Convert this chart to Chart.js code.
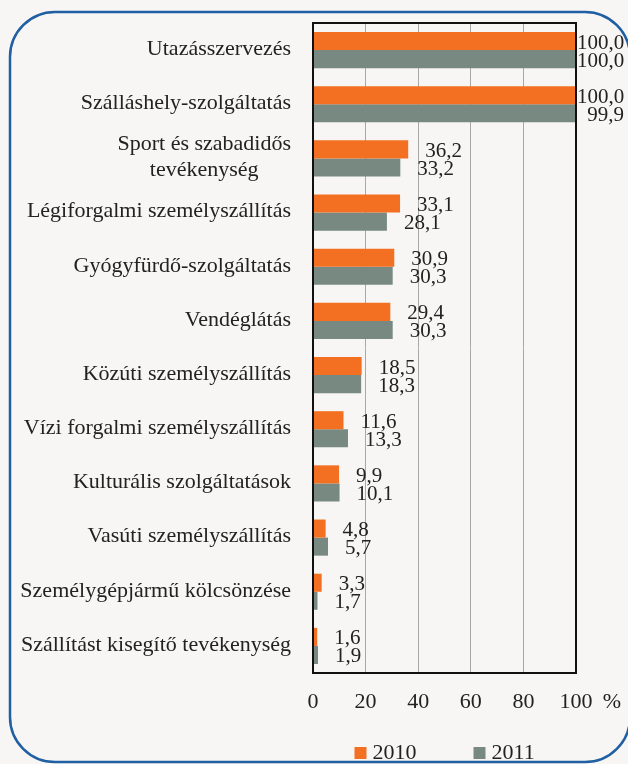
<!DOCTYPE html>
<html>
<head>
<meta charset="utf-8">
<script src="https://cdn.jsdelivr.net/npm/chart.js@4/dist/chart.umd.min.js"></script>
<style>
  html, body { margin: 0; padding: 0; background: #f7f6f4; }
  canvas { display: block; }
</style>
</head>
<body>
<canvas id="c" width="628" height="764"></canvas>
<script>
const categories = [
  'Utazásszervezés',
  'Szálláshely-szolgáltatás',
  ['Sport és szabadidős', 'tevékenység'],
  'Légiforgalmi személyszállítás',
  'Gyógyfürdő-szolgáltatás',
  'Vendéglátás',
  'Közúti személyszállítás',
  'Vízi forgalmi személyszállítás',
  'Kulturális szolgáltatások',
  'Vasúti személyszállítás',
  'Személygépjármű kölcsönzése',
  'Szállítást kisegítő tevékenység'
];
const values2010 = [100.0, 100.0, 36.2, 33.1, 30.9, 29.4, 18.5, 11.6, 9.9, 4.8, 3.3, 1.6];
const values2011 = [100.0, 99.9, 33.2, 28.1, 30.3, 30.3, 18.3, 13.3, 10.1, 5.7, 1.7, 1.9];
const seriesLabels = ['2010', '2011'];
const xTicks = [0, 20, 40, 60, 80, 100];
const unitLabel = '%';

const FONT = '"Liberation Serif", "DejaVu Serif", serif';
const FSIZE = 22;
const VSIZE = 21;
const TEXT = '#222222';
const ORANGE = '#f36f22';
const GRAY = '#788982';

function fmt(v) { return v.toFixed(1).replace('.', ','); }

const decor = {
  id: 'decor',
  beforeDraw(chart) {
    const ctx = chart.ctx;
    ctx.save();
    ctx.fillStyle = '#f7f6f4';
    ctx.fillRect(0, 0, chart.width, chart.height);
    ctx.restore();
  },
  afterDraw(chart) {
    const ctx = chart.ctx;
    const ca = chart.chartArea;
    const ys = chart.scales.y;
    ctx.save();
    // frame
    ctx.strokeStyle = '#111';
    ctx.lineWidth = 2;
    ctx.beginPath();
    ctx.moveTo(ca.left, ca.top); ctx.lineTo(ca.right, ca.top); ctx.lineTo(ca.right, ca.bottom);
    ctx.lineTo(ca.left, ca.bottom); ctx.closePath();
    ctx.stroke();

    ctx.font = FSIZE + 'px ' + FONT;
    ctx.fillStyle = TEXT;
    ctx.textBaseline = 'middle';
    // category labels
    const rightEdge = ca.left - 22;
    categories.forEach((lab, i) => {
      const y = ys.getPixelForValue(i);
      const lines = Array.isArray(lab) ? lab : [lab];
      const widths = lines.map(l => ctx.measureText(l).width);
      const maxW = Math.max(...widths);
      const center = rightEdge - maxW / 2;
      const lh = 26;
      lines.forEach((l, k) => {
        const ly = y + (k - (lines.length - 1) / 2) * lh - 1;
        ctx.textAlign = 'center';
        ctx.fillText(l, center, ly);
      });
    });
    // value labels
    ctx.font = VSIZE + 'px ' + FONT;
    chart.data.datasets.forEach((ds, di) => {
      const meta = chart.getDatasetMeta(di);
      meta.data.forEach((bar, i) => {
        const txt = fmt(ds.data[i]);
        const w = ctx.measureText(txt).width;
        let x = bar.x + 17;
        if (x + w > chart.width - 4) x = Math.max(ca.right + 1, chart.width - 4 - w);
        ctx.textAlign = 'left';
        ctx.fillText(txt, x, bar.y + 2);
      });
    });
    ctx.font = FSIZE + 'px ' + FONT;
    // unit label
    ctx.textAlign = 'center';
    ctx.fillText(unitLabel, 612, 702);
    // legend
    const cx = (ca.left + ca.right) / 2;
    const items = [cx - 90, cx + 29];
    chart.data.datasets.forEach((ds, di) => {
      const bx = items[di];
      ctx.fillStyle = ds.backgroundColor;
      ctx.fillRect(bx, 747, 12, 12);
      ctx.fillStyle = TEXT;
      ctx.textAlign = 'left';
      ctx.fillText(ds.label, bx + 18, 753);
    });
    // rounded border
    ctx.strokeStyle = '#1f5fa2';
    ctx.lineWidth = 2.5;
    const L = 10, T = 12, R = 630, B = 762, r = 45;
    ctx.beginPath();
    ctx.moveTo(L + r, T);
    ctx.lineTo(R - r, T);
    ctx.arcTo(R, T, R, T + r, r);
    ctx.lineTo(R, B - r);
    ctx.arcTo(R, B, R - r, B, r);
    ctx.lineTo(L + r, B);
    ctx.arcTo(L, B, L, B - r, r);
    ctx.lineTo(L, T + r);
    ctx.arcTo(L, T, L + r, T, r);
    ctx.stroke();
    ctx.restore();
  }
};

new Chart(document.getElementById('c'), {
  type: 'bar',
  data: {
    labels: categories,
    datasets: [
      { label: seriesLabels[0], data: values2010, backgroundColor: ORANGE, categoryPercentage: 0.667, barPercentage: 1.0 },
      { label: seriesLabels[1], data: values2011, backgroundColor: GRAY, categoryPercentage: 0.667, barPercentage: 1.0 }
    ]
  },
  options: {
    indexAxis: 'y',
    responsive: false,
    animation: false,
    devicePixelRatio: 1,
    layout: { padding: { left: 313, right: 52, top: 23, bottom: 0 } },
    plugins: { legend: { display: false }, tooltip: { enabled: false } },
    scales: {
      x: {
        min: 0, max: 100,
        afterBuildTicks(s) { s.ticks = xTicks.map(v => ({ value: v })); },
        afterFit(s) { s.height = 91; },
        grid: { color: '#a8a8a8', lineWidth: 1, drawTicks: false },
        border: { color: '#111', width: 2 },
        ticks: { font: { family: FONT, size: FSIZE }, color: TEXT, padding: 16, maxRotation: 0 }
      },
      y: {
        afterFit(s) { s.width = 0; },
        grid: { display: false },
        border: { color: '#111', width: 2 },
        ticks: { display: false }
      }
    }
  },
  plugins: [decor]
});
</script>
</body>
</html>
